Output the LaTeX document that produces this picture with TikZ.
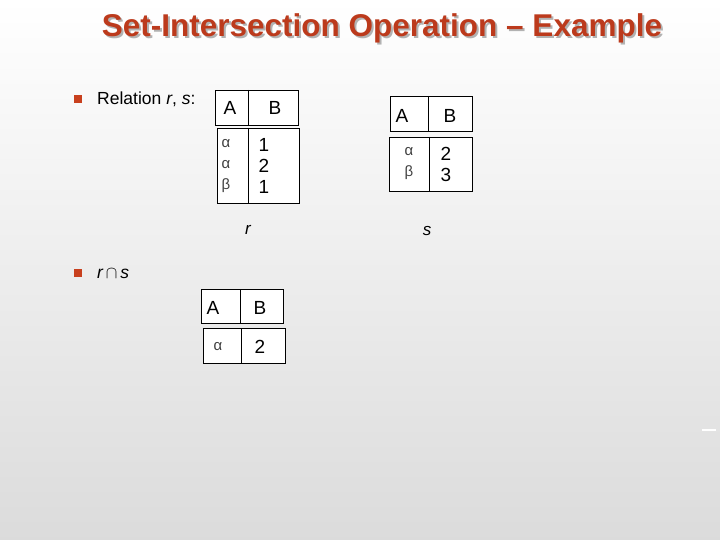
\documentclass[tikz,border=0pt]{standalone}
\usepackage{fontspec}
\setmainfont{Liberation Sans}
\usepackage{amssymb}
\definecolor{tred}{HTML}{BC3A1C}
\definecolor{bul}{HTML}{C8401E}
\begin{document}
\begin{tikzpicture}[x=1pt,y=-1pt,
 cell/.style={draw=black,fill=white,line width=0.8pt},
 lbl/.style={font=\fontsize{19}{21}\selectfont,inner sep=0pt},
 grk/.style={font=\fontsize{15}{21}\selectfont,inner sep=0pt,align=center,text=black!75},
 bullet/.style={fill=bul,minimum size=8pt,inner sep=0pt}]
\useasboundingbox (0,0) rectangle (720,540);
\shade[top color=white,bottom color=black!14] (0,0) rectangle (720,540);
% title
\node[text=black!30,font=\bfseries\fontsize{31.5}{33}\selectfont] (tsh) at (384,30) {Set-Intersection Operation -- Example};
\node[text=tred,font=\bfseries\fontsize{31.5}{33}\selectfont] (title) at (382,28) {Set-Intersection Operation -- Example};
% bullets
\node[bullet] (b1) at (78,99) {};
\node[lbl,anchor=west,font=\fontsize{17.5}{20}\selectfont] (t1) at (97,99) {Relation \textit{r}, \textit{s}:};
\node[bullet] (b2) at (78,273) {};
\node[lbl,anchor=west,font=\fontsize{17.5}{20}\selectfont\itshape] (t2) at (97,274) {r\,$\cap$\,s};
% table r
\draw[cell] (215,90) rectangle (298,125); \draw (248,90) -- (248,125);
\node[lbl] (ra) at (230,108) {A}; \node[lbl] (rb) at (275,108) {B};
\draw[cell] (217,128) rectangle (299,203); \draw (248,128) -- (248,203);
\node[grk] (rg) at (226,166) {α\\α\\β};
\node[lbl,align=center] (rn) at (264,166) {1\\2\\1};
\node[lbl,font=\fontsize{17}{20}\selectfont\itshape] (rl) at (248,230) {r};
% table s
\draw[cell] (390,96) rectangle (472,131); \draw (428,96) -- (428,131);
\node[lbl] (sa) at (402,116) {A}; \node[lbl] (sb) at (450,116) {B};
\draw[cell] (389,137) rectangle (472,191); \draw (429,137) -- (429,191);
\node[grk] (sg) at (409,164) {α\\β};
\node[lbl,align=center] (sn) at (446,164) {2\\3};
\node[lbl,font=\fontsize{17}{20}\selectfont\itshape] (sl) at (427,231) {s};
% result
\draw[cell] (201,289) rectangle (283,323); \draw (240,289) -- (240,323);
\node[lbl] (qa) at (213,308) {A}; \node[lbl] (qb) at (260,308) {B};
\draw[cell] (203,328) rectangle (285,363); \draw (241,328) -- (241,363);
\node[grk] (qg) at (218,347) {α};
\node[lbl] (qn) at (260,347) {2};
\draw[white,line width=1.5pt] (702,430) -- (716,430);
\end{tikzpicture}
\end{document}
